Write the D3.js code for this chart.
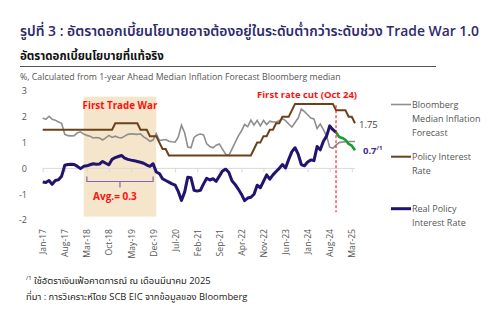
<!DOCTYPE html>
<html><head><meta charset="utf-8">
<script src="https://cdn.jsdelivr.net/npm/d3@7"></script>
<style>
body{margin:0;background:#fff;}
svg{display:block;}
text{font-family:"Open Sans","Noto Sans","Noto Sans Thai",sans-serif;}
</style></head><body>
<svg id="c" width="500" height="326"></svg>
<script>
const months = d3.timeMonth.range(new Date(2017,0,1), new Date(2025,4,1)).map(d3.timeFormat("%b-%y"));
const tickLabels = ["Jan-17","Aug-17","Mar-18","Oct-18","May-19","Dec-19","Jul-20","Feb-21","Sep-21","Apr-22","Nov-22","Jun-23","Jan-24","Aug-24","Mar-25"];
const yTicks = [-2,-1,0,1,2,3];

const policyRate = [1.5,1.5,1.5,1.5,1.5,1.5,1.5,1.5,1.5,1.5,
 1.5,1.5,1.5,1.5,1.5,1.5,1.5,1.5,1.5,1.5,
 1.5,1.5,1.5,1.75,1.75,1.75,1.75,1.75,1.75,1.75,
 1.75,1.5,1.5,1.5,1.25,1.25,1.25,1.0,0.75,0.75,
 0.5,0.5,0.5,0.5,0.5,0.5,0.5,0.5,0.5,0.5,
 0.5,0.5,0.5,0.5,0.5,0.5,0.5,0.5,0.5,0.5,
 0.5,0.5,0.5,0.5,0.5,0.5,0.5,0.75,1.0,1.0,
 1.25,1.25,1.5,1.5,1.75,1.75,2.0,2.0,2.0,2.25,
 2.5,2.5,2.5,2.5,2.5,2.5,2.5,2.5,2.5,2.5,
 2.5,2.5,2.5,2.25,2.25,2.25,2.25,2.0,2.0,1.75];

const inflationForecast = [1.95,1.9,2.02,1.9,1.87,1.8,1.75,1.32,1.27,1.26,
 1.27,1.38,1.42,1.33,1.28,1.25,1.18,1.2,1.18,1.1,
 1.18,1.28,1.2,1.25,1.2,1.18,1.25,1.32,1.34,1.33,
 1.32,1.34,1.22,1.15,1.05,1.1,1.35,1.08,1.1,1.12,
 1.05,1.03,1.02,1.22,1.67,1.38,0.83,0.8,1.2,1.3,
 1.33,1.3,0.95,0.85,0.8,0.9,0.95,0.75,0.55,0.5,
 0.75,1.0,1.25,1.45,1.7,1.62,1.87,1.68,1.86,1.65,
 1.86,1.7,1.83,1.8,1.8,1.85,1.93,1.85,1.72,1.6,
 1.78,1.95,2.3,2.2,2.08,1.95,1.92,1.55,1.72,1.5,
 1.25,0.82,0.78,0.9,1.0,1.02,1.03,1.04,1.04,1.04];

const realRate = [-0.53,-0.55,-0.47,-0.62,-0.47,-0.44,-0.3,0.12,0.15,0.16,
 0.15,0.08,-0.01,0.08,0.1,0.14,0.18,0.16,0.17,0.27,
 0.2,0.14,0.35,0.42,0.46,0.5,0.4,0.35,0.32,0.3,
 0.27,0.24,0.2,0.13,0.08,0.18,-0.14,-0.2,-0.4,-0.47,
 -0.53,-0.6,-0.65,-0.9,-1.24,-0.92,-0.34,-0.36,-0.85,-0.88,
 -0.85,-0.6,-0.38,-0.45,-0.4,-0.5,-0.3,-0.1,-0.03,-0.15,
 -0.48,-0.62,-0.8,-1.0,-1.25,-1.15,-1.12,-1.0,-0.65,-0.75,
 -0.5,-0.25,-0.42,-0.25,-0.12,0.0,0.15,0.02,0.35,0.65,
 0.8,0.55,0.15,0.1,0.25,0.33,0.3,0.85,0.72,1.05,
 1.25,1.65,1.5,1.4];
const realRateAfterCut = [1.4,1.22,1.18,1.1,0.95,0.88,0.7];
const cutMonth = "Oct-24";
const tradeWarStart = "Feb-18", tradeWarEnd = "Jan-20";
const avgStart = "Mar-18", avgEnd = "Dec-19";

const svg = d3.select("#c");
const x = d3.scaleLinear().domain([0, months.indexOf("Mar-25")]).range([42.7, 351.8]);
const y = d3.scaleLinear().domain([-2, 3]).range([220, 91]);
const idx = m => months.indexOf(m);

// titles
svg.append("text").attr("x",20).attr("y",36).attr("fill","#2e2a6c").attr("font-size",13.9).attr("font-weight","600")
  .text("รูปที่ 3 : อัตราดอกเบี้ยนโยบายอาจต้องอยู่ในระดับต่ำกว่าระดับช่วง Trade War 1.0");
svg.append("text").attr("x",20).attr("y",60).attr("fill","#111").attr("font-size",11.5).attr("font-weight","700")
  .text("อัตราดอกเบี้ยนโยบายที่แท้จริง");
svg.append("line").attr("x1",20).attr("x2",436).attr("y1",66.5).attr("y2",66.5).attr("stroke","#555").attr("stroke-width",1);
svg.append("text").attr("x",20).attr("y",79.5).attr("fill","#555").attr("font-size",8.8)
  .text("%, Calculated from 1-year Ahead Median Inflation Forecast Bloomberg median");

// shaded trade war
svg.append("rect").attr("x",x(idx(tradeWarStart))).attr("width",x(idx(tradeWarEnd))-x(idx(tradeWarStart)))
  .attr("y",y(2.78)).attr("height",y(-1.87)-y(2.78)).attr("fill","#f5e6cb");

// y axis
const yAxis = svg.append("g").attr("transform","translate(30,0)")
  .call(d3.axisLeft(y).tickValues(yTicks).tickSize(0).tickPadding(3).tickFormat(d=>String(d)));
yAxis.select(".domain").remove();
yAxis.selectAll("text").attr("fill","#555").attr("font-size",9).style("font-family","'Open Sans',sans-serif");

// zero axis with ticks
const tickIdx = tickLabels.map(idx);
const zAxis = svg.append("g").attr("transform",`translate(0,${y(0)})`)
  .call(d3.axisBottom(x).tickValues(tickIdx).tickSize(4).tickFormat(""));
zAxis.select(".domain").attr("stroke","#d9d9d9").attr("d",`M${x(0)},0H${x(idx("Apr-25"))}`);
zAxis.selectAll(".tick line").attr("stroke","#d9d9d9");

// bottom labels
const bAxis = svg.append("g").attr("transform","translate(0,229)")
  .call(d3.axisBottom(x).tickValues(tickIdx).tickSize(0).tickFormat((d,i)=>tickLabels[i]));
bAxis.select(".domain").remove();
bAxis.selectAll("text").attr("transform","rotate(-90)").attr("x",0).attr("y",0).attr("dy","0.35em")
  .attr("text-anchor","end").attr("fill","#555").attr("font-size",8.6).style("font-family","'Open Sans',sans-serif");

// lines
const line = d3.line().x(d=>x(d[0])).y(d=>y(d[1]));
svg.append("path").datum(inflationForecast.map((v,i)=>[i,v])).attr("d",line)
  .attr("fill","none").attr("stroke","#8e8e8e").attr("stroke-width",1.6);
svg.append("path").datum(policyRate.map((v,i)=>[i,v])).attr("d",line)
  .attr("fill","none").attr("stroke","#6b411a").attr("stroke-width",2);
svg.append("path").datum(realRate.map((v,i)=>[i,v])).attr("d",line)
  .attr("fill","none").attr("stroke","#21146f").attr("stroke-width",3).attr("stroke-linejoin","round");
svg.append("path").datum(realRateAfterCut.map((v,i)=>[i+idx(cutMonth),v])).attr("d",line)
  .attr("fill","none").attr("stroke","#1c9b34").attr("stroke-width",2.6).attr("stroke-linejoin","round");

// dashed cut line
svg.append("line").attr("x1",x(idx(cutMonth))).attr("x2",x(idx(cutMonth))).attr("y1",y(2.45)).attr("y2",y(-1.7))
  .attr("stroke","#ff0000").attr("stroke-width",1).attr("stroke-dasharray","3,2");
svg.append("text").attr("x",x(idx(cutMonth))-29).attr("y",98).attr("text-anchor","middle").attr("fill","#ff1010")
  .attr("font-size",9.5).attr("font-weight","700").text("First rate cut (Oct 24)");
svg.append("text").attr("x",x((idx(tradeWarStart)+idx(tradeWarEnd))/2)).attr("y",108.5).attr("text-anchor","middle").attr("fill","#ff1010")
  .attr("font-size",9.8).attr("font-weight","700").text("First Trade War");

// bracket
const bx1 = x(idx(avgStart)), bx2 = x(idx(avgEnd)), by = 181.5, bmid=(bx1+bx2)/2;
svg.append("path").attr("d",`M${bx1},${by-5}V${by}H${bx2}V${by-5}M${bmid},${by}V${by+6}`)
  .attr("fill","none").attr("stroke","#7b68b0").attr("stroke-width",1.2);
svg.append("text").attr("x",bmid-5).attr("y",200).attr("text-anchor","middle").attr("fill","#ff1010")
  .attr("font-size",10).attr("font-weight","700").text("Avg.= 0.3");

// end labels
const last = policyRate.length-1;
svg.append("text").attr("x",x(last)+4).attr("y",y(policyRate[last])+5).attr("fill","#444").attr("font-size",9.5).text("1.75");
const lbl = svg.append("text").attr("x",x(last)+8).attr("y",y(realRateAfterCut[realRateAfterCut.length-1])+4)
  .attr("fill","#3b2c8a").attr("font-size",9.5).attr("font-weight","700");
lbl.append("tspan").text("0.7");
lbl.append("tspan").attr("dy",-4).attr("font-size",6).text("/1");

// legend
const legend = [
  {c:"#8e8e8e", w:1.6, y:104.5, t:["Bloomberg","Median Inflation","Forecast"]},
  {c:"#6b411a", w:2, y:156.7, t:["Policy Interest","Rate"]},
  {c:"#21146f", w:3, y:208.7, t:["Real Policy","Interest Rate"]}
];
legend.forEach(l=>{
  svg.append("line").attr("x1",391).attr("x2",411).attr("y1",l.y).attr("y2",l.y).attr("stroke",l.c).attr("stroke-width",l.w);
  l.t.forEach((s,i)=>svg.append("text").attr("x",412).attr("y",l.y+3.2+i*14.3).attr("fill","#555").attr("font-size",9).text(s));
});

// footnotes
const fn = svg.append("text").attr("x",26).attr("y",284).attr("fill","#222").attr("font-size",9.4);
fn.append("tspan").attr("font-size",6).attr("dy",-4).text("/1");
fn.append("tspan").attr("dy",4).text(" ใช้อัตราเงินเฟ้อคาดการณ์ ณ เดือนมีนาคม 2025");
svg.append("text").attr("x",26).attr("y",300).attr("fill","#222").attr("font-size",9.4)
  .text("ที่มา : การวิเคราะห์โดย SCB EIC จากข้อมูลของ Bloomberg");
</script></body></html>
